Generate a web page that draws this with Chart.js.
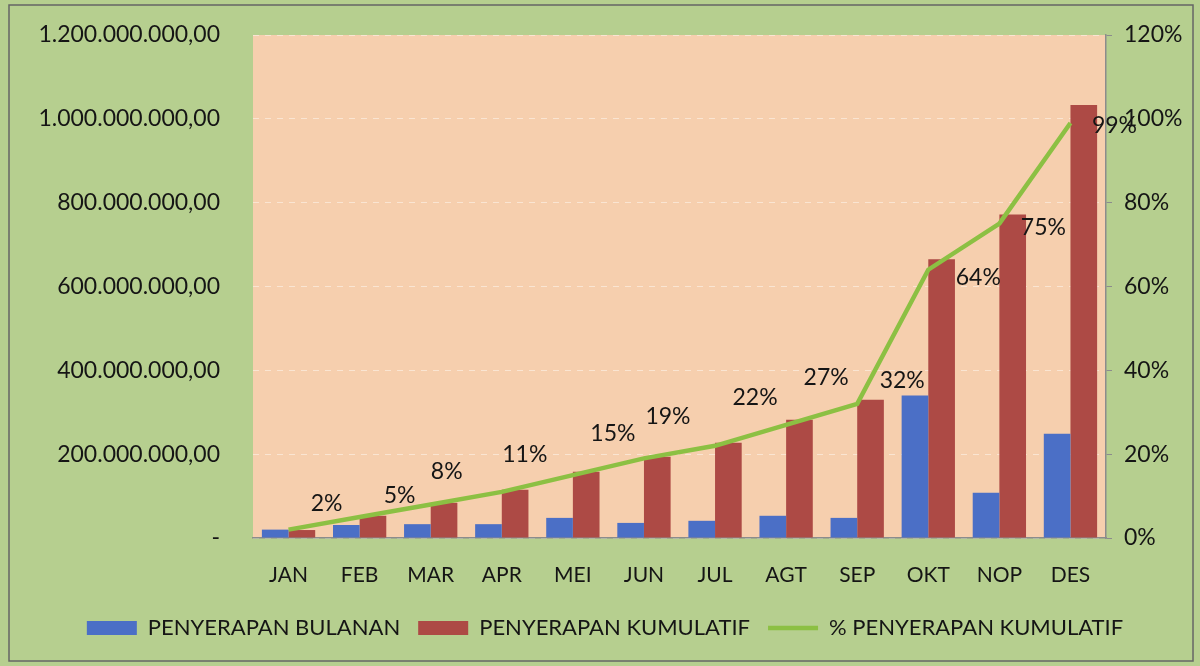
<!DOCTYPE html>
<html>
<head>
<meta charset="utf-8">
<script src="https://cdn.jsdelivr.net/npm/chart.js@4"></script>
<style>
  html, body { margin: 0; padding: 0; background: #fff; }
  #wrap { width: 1200px; height: 666px; }
</style>
</head>
<body>
<div id="wrap"><canvas id="chart" width="1200" height="666"></canvas></div>
<script>
const months = ["JAN", "FEB", "MAR", "APR", "MEI", "JUN", "JUL", "AGT", "SEP", "OKT", "NOP", "DES"];
const bulanan = [20000000, 31000000, 33000000, 33000000, 48000000, 36000000, 41000000, 53000000, 48000000, 340000000, 108000000, 249000000];
const kumulatif = [19000000, 53000000, 84000000, 115000000, 158000000, 194000000, 227000000, 282000000, 330000000, 665000000, 772000000, 1033000000];
const persen = [2, 5, 8, 11, 15, 19, 22, 27, 32, 64, 75, 99];

// where each % label sits, relative to its point (hand placed in the source)
const labelShift = [
  [38, -26], [40, -21], [16, -33], [23, -37], [40, -42], [24, -42],
  [40, -48], [40, -47], [45, -23], [50, 8], [44, 4], [44, 3]
];

const FONT = "Lato";
const TEXT = "#151515";
const GREEN_BG = "#b6cf8f";
const PEACH = "#f6cfae";

function rupiah(v) {
  if (v === 0) return "-";
  const s = Math.round(v).toString().replace(/\B(?=(\d{3})+(?!\d))/g, ".");
  return s + ",00";
}

const bgPlugin = {
  id: "bg",
  beforeDraw(chart) {
    const { ctx, chartArea: a } = chart;
    ctx.save();
    ctx.fillStyle = GREEN_BG;
    ctx.fillRect(0, 0, chart.width, chart.height);
    ctx.strokeStyle = "#666";
    ctx.lineWidth = 1.5;
    ctx.strokeRect(9, 5, chart.width - 16, chart.height - 10);
    ctx.fillStyle = PEACH;
    ctx.fillRect(a.left, a.top, a.right - a.left, a.bottom - a.top);
    ctx.restore();
  }
};

const pctLabels = {
  id: "pctLabels",
  afterDatasetsDraw(chart) {
    const { ctx } = chart;
    const meta = chart.getDatasetMeta(2);
    ctx.save();
    ctx.font = "23px " + FONT;
    ctx.fillStyle = TEXT;
    ctx.textAlign = "center";
    ctx.textBaseline = "middle";
    meta.data.forEach((pt, i) => {
      const [dx, dy] = labelShift[i];
      ctx.fillText(persen[i] + "%", pt.x + dx, pt.y + dy);
    });
    ctx.restore();
  }
};

new Chart(document.getElementById("chart"), {
  type: "bar",
  data: {
    labels: months,
    datasets: [
      {
        label: "PENYERAPAN BULANAN",
        data: bulanan,
        backgroundColor: "#4b6fc6",
        yAxisID: "y",
        order: 2,
        pointStyle: "rect",
        categoryPercentage: 0.75,
        barPercentage: 1.0
      },
      {
        label: "PENYERAPAN KUMULATIF",
        data: kumulatif,
        backgroundColor: "#ad4a45",
        yAxisID: "y",
        order: 2,
        pointStyle: "rect",
        categoryPercentage: 0.75,
        barPercentage: 1.0
      },
      {
        type: "line",
        label: "% PENYERAPAN KUMULATIF",
        data: persen,
        borderColor: "#8cc043",
        backgroundColor: "#8cc043",
        borderWidth: 4.5,
        pointRadius: 0,
        pointStyle: "line",
        tension: 0,
        yAxisID: "y1",
        order: 1
      }
    ]
  },
  options: {
    responsive: false,
    animation: false,
    layout: { padding: { left: 20, right: 10, top: 35, bottom: 17 } },
    plugins: {
      tooltip: { enabled: false },
      legend: {
        position: "bottom",
        labels: {
          usePointStyle: true,
          pointStyleWidth: 50,
          boxHeight: 14,
          padding: 18,
          color: TEXT,
          font: { family: FONT, size: 22 },
          sort: (a, b) => a.datasetIndex - b.datasetIndex
        }
      }
    },
    scales: {
      x: {
        grid: { display: false, drawTicks: false },
        border: { display: true, color: "#8c8c8c", width: 1.5 },
        ticks: { color: TEXT, padding: 25, font: { family: FONT, size: 21 } },
        afterFit(scale) { scale.height = 61; }
      },
      y: {
        position: "left",
        min: 0,
        max: 1200000000,
        ticks: {
          stepSize: 200000000,
          color: TEXT,
          padding: 33,
          font: { family: FONT, size: 23 },
          callback: (v) => rupiah(v)
        },
        grid: { color: "rgba(255,255,255,0.45)", lineWidth: 1, drawTicks: false },
        border: { display: false, dash: [6, 6] },
        afterFit(scale) {
          scale.width = 233;
          scale.paddingTop = 0;
          scale.paddingBottom = 0;
        }
      },
      y1: {
        position: "right",
        min: 0,
        max: 120,
        ticks: {
          stepSize: 20,
          color: TEXT,
          padding: 12,
          font: { family: FONT, size: 23 },
          callback: (v) => v + "%"
        },
        grid: { drawOnChartArea: false, drawTicks: true, tickLength: 6, color: "#8c8c8c" },
        border: { display: true, color: "#8c8c8c", width: 1.5 },
        afterFit(scale) {
          scale.width = 84;
          scale.paddingTop = 0;
          scale.paddingBottom = 0;
        }
      }
    }
  },
  plugins: [bgPlugin, pctLabels]
});
</script>
</body>
</html>
